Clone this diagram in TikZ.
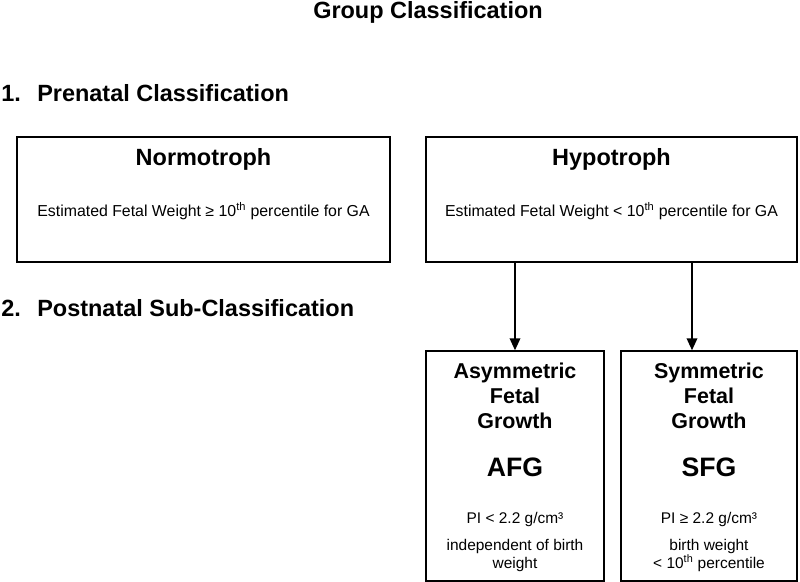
\documentclass[tikz,border=0pt]{standalone}
\usepackage{fontspec}
\setmainfont{Liberation Sans}
\usetikzlibrary{arrows.meta, positioning}
\tikzstyle{box} = [rectangle, draw=black, line width=1.1pt, inner sep=0pt]
\tikzstyle{wide} = [box, minimum width=279.75pt, minimum height=93.75pt]
\tikzstyle{tall} = [box, minimum width=133.5pt, minimum height=172.5pt]
\tikzstyle{heading} = [font=\bfseries\fontsize{17.6}{21}\selectfont, inner sep=0pt]
\tikzstyle{desc} = [font=\fontsize{11.9}{14}\selectfont, inner sep=0pt]
\tikzstyle{growth} = [font=\bfseries\fontsize{16.1}{18.75}\selectfont, align=center, inner sep=0pt]
\tikzstyle{abbr} = [font=\bfseries\fontsize{20}{24}\selectfont, inner sep=0pt]
\tikzstyle{crit} = [font=\fontsize{11.6}{13.5}\selectfont, align=center, inner sep=0pt]
\tikzstyle{arr} = [line width=1.1pt, -{Triangle[length=9pt, width=8pt]}]

\begin{document}
\begin{tikzpicture}[x=0.75pt, y=-0.75pt]
\useasboundingbox (0,0) rectangle (800,582);

% headings
\node (title) [heading] at (428,12) {Group Classification};
\node (pre) [heading, anchor=west] at (1,93) {\makebox[27pt][l]{1.}Prenatal Classification};
\node (post) [heading, anchor=west] at (1,308) {\makebox[27pt][l]{2.}Postnatal Sub-Classification};

% boxes
\node (norm) [wide] at (203.5,199.5) {};
\node (hypo) [wide, minimum width=278.25pt] at (611.5,199.5) {};
\node (afg) [tall] at (515,466) {};
\node (sfg) [tall, minimum width=132pt] at (709,466) {};

% prenatal texts
\node (normT) [heading] at ([yshift=-17.25pt]norm.north) {Normotroph};
\node (normD) [desc] at ([yshift=-56.25pt]norm.north) {Estimated Fetal Weight ≥ 10\textsuperscript{th} percentile for GA};
\node (hypoT) [heading] at ([yshift=-17.25pt]hypo.north) {Hypotroph};
\node (hypoD) [desc] at ([yshift=-56.25pt]hypo.north) {Estimated Fetal Weight < 10\textsuperscript{th} percentile for GA};

% postnatal texts
\node (afgT) [growth] at ([yshift=-34.5pt]afg.north) {Asymmetric\\Fetal\\Growth};
\node (afgA) [abbr] at ([yshift=-87.75pt]afg.north) {AFG};
\node (afgP) [crit] at ([yshift=-126.75pt]afg.north) {PI < 2.2 g/cm³};
\node (afgC) [crit] at ([yshift=-153.75pt]afg.north) {independent of birth\\weight};
\node (sfgT) [growth] at ([yshift=-34.5pt]sfg.north) {Symmetric\\Fetal\\Growth};
\node (sfgA) [abbr] at ([yshift=-87.75pt]sfg.north) {SFG};
\node (sfgP) [crit] at ([yshift=-126.75pt]sfg.north) {PI ≥ 2.2 g/cm³};
\node (sfgC) [crit] at ([yshift=-153.75pt]sfg.north) {birth weight\\< 10\textsuperscript{th} percentile};

% arrows
\coordinate (sfgin) at ([xshift=-12.75pt]sfg.north);
\draw [arr] (afg.north |- hypo.south) -- (afg.north);
\draw [arr] (sfgin |- hypo.south) -- (sfgin);

\end{tikzpicture}
\end{document}
